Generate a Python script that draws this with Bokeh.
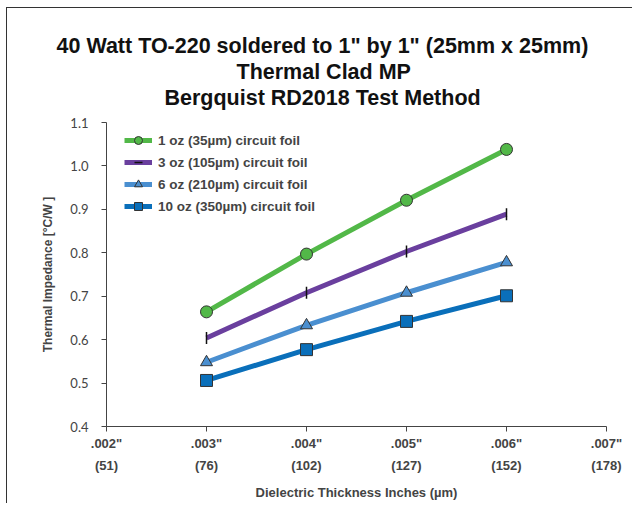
import math
from bokeh.plotting import figure
from bokeh.models import Range1d, FixedTicker, LinearAxis, Title, Legend, InlineStyleSheet
from bokeh.embed import file_html
from bokeh.resources import INLINE

thickness = [0.003, 0.004, 0.005, 0.006]
foil_1oz = [0.664, 0.797, 0.921, 1.038]
foil_3oz = [0.604, 0.708, 0.803, 0.889]
foil_6oz = [0.548, 0.633, 0.708, 0.778]
foil_10oz = [0.506, 0.577, 0.642, 0.701]

x_ticks = [0.002, 0.003, 0.004, 0.005, 0.006, 0.007]
x_labels_in = ['.002"', '.003"', '.004"', '.005"', '.006"', '.007"']
x_labels_um = ['(51)', '(76)', '(102)', '(127)', '(152)', '(178)']
y_ticks = [0.4, 0.5, 0.6, 0.7, 0.8, 0.9, 1.0, 1.1]
y_labels = ['0.4', '0.5', '0.6', '0.7', '0.8', '0.9', '1.0', '1.1']

series = [
    ("1 oz (35\u00b5m) circuit foil", foil_1oz, "#52b848", "circle", "#52b848"),
    ("3 oz (105\u00b5m) circuit foil", foil_3oz, "#6a3f9e", "dash", "#000000"),
    ("6 oz (210\u00b5m) circuit foil", foil_6oz, "#4a8fd0", "triangle", "#4a8fd0"),
    ("10 oz (350\u00b5m) circuit foil", foil_10oz, "#0a6fba", "square", "#0a6fba"),
]

p = figure(width=626, height=496, output_backend="svg", toolbar_location=None,
           x_range=Range1d(0.002, 0.007), y_range=Range1d(0.4, 1.1),
           x_axis_location=None, y_axis_location=None,
           min_border_left=99, min_border_right=27, min_border_top=114, min_border_bottom=78)
p.grid.visible = False
p.outline_line_color = None
p.stylesheets = [InlineStyleSheet(css=":host { border-top: 1px solid #333; border-left: 1px solid #333; margin-left: 6px; margin-top: 7px; }")]

FONT = "Liberation Sans"

# spacer between plot and titles
p.add_layout(Title(text=" ", text_font_size="10px", standoff=0), "above")
# titles (first added is closest to plot)
for txt, off in [("Bergquist RD2018 Test Method", 58), ("Thermal Clad MP", 130),
                 ("40 Watt TO-220 soldered to 1\" by 1\" (25mm x 25mm)", -50)]:
    t = Title(text=txt, align="left", text_font=FONT, text_font_size="21.5px",
              text_font_style="bold", text_color="#111111", standoff=0, offset=off)
    p.add_layout(t, "above")

# y axis
yax = LinearAxis(ticker=FixedTicker(ticks=y_ticks),
                 major_label_overrides={t: l for t, l in zip(y_ticks, y_labels)},
                 axis_label="Thermal Impedance [\u00b0C/W ]",
                 axis_label_text_font=FONT, axis_label_text_font_style="bold",
                 axis_label_text_font_size="12px", axis_label_standoff=12,
                 major_label_text_font="Lato", major_label_text_font_size="13px",
                 major_label_standoff=13, major_tick_out=5, major_tick_in=0,
                 minor_tick_out=0, minor_tick_in=0,
                 axis_line_color="#444444", major_tick_line_color="#444444")
p.add_layout(yax, "left")

# x axis (inches)
xax = LinearAxis(ticker=FixedTicker(ticks=x_ticks),
                 major_label_overrides={t: l for t, l in zip(x_ticks, x_labels_in)},
                 major_label_text_font=FONT, major_label_text_font_style="bold",
                 major_label_text_font_size="13px", major_label_standoff=4,
                 major_tick_out=5, major_tick_in=0, minor_tick_out=0, minor_tick_in=0,
                 axis_line_color="#444444", major_tick_line_color="#444444")
p.add_layout(xax, "below")

# x axis (micrometres)
xax2 = LinearAxis(ticker=FixedTicker(ticks=x_ticks),
                  major_label_overrides={t: l for t, l in zip(x_ticks, x_labels_um)},
                  major_label_text_font=FONT, major_label_text_font_style="bold",
                  major_label_text_font_size="13px", major_label_standoff=4,
                  major_tick_out=0, major_tick_in=0, minor_tick_out=0, minor_tick_in=0,
                  axis_line_color=None,
                  axis_label="Dielectric Thickness Inches (\u00b5m)",
                  axis_label_text_font=FONT, axis_label_text_font_style="bold",
                  axis_label_text_font_size="13px", axis_label_standoff=9)
p.add_layout(xax2, "below")

items = []
for label, ys, color, marker, fill in series:
    r1 = p.line(thickness, ys, line_color=color, line_width=5)
    if marker == "dash":
        r2 = p.scatter(thickness, ys, marker="dash", angle=math.pi / 2, size=12,
                       line_color="#111111", line_width=1.5)
    else:
        r2 = p.scatter(thickness, ys, marker=marker, size=12, fill_color=fill,
                       line_color="#333333", line_width=1)
    items.append((label, [r1, r2]))

legend = Legend(items=items, location=(18, 210), margin=0, padding=0,
                border_line_color=None, background_fill_alpha=0,
                glyph_width=28, glyph_height=20, spacing=2, label_standoff=6,
                label_text_font=FONT, label_text_font_style="bold",
                label_text_font_size="13.5px", label_height=20)
p.add_layout(legend, "center")

open("out.html", "w").write(file_html(p, INLINE))
